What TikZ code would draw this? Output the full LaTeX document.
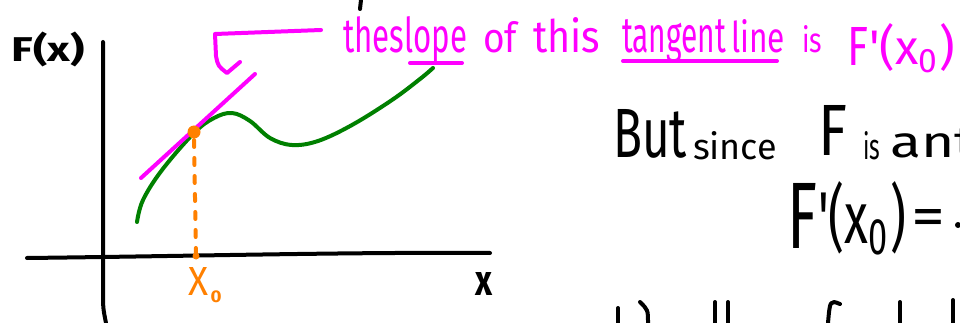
\documentclass[tikz,border=0pt]{standalone}
\usepackage{fontspec}
\setmainfont{Fira Sans}
\usepackage{graphicx}
\definecolor{mag}{RGB}{255,0,255}
\definecolor{grn}{RGB}{0,128,0}
\definecolor{org}{RGB}{255,128,0}
% width x height-above-baseline
\newcommand\wh[3]{\resizebox{#1pt}{#2pt}{#3}}
% width x total height
\newcommand\bfit[3]{\resizebox*{#1pt}{#2pt}{#3}}
\begin{document}
\begin{tikzpicture}[x=1pt,y=-1pt,
  ink/.style={line width=4pt,line cap=round,line join=round},
  lbl/.style={inner sep=0pt,outer sep=0pt}]
\useasboundingbox (0,0) rectangle (960,323);
\clip (0,0) rectangle (960,323);
\fill[white] (0,0) rectangle (960,323);

% axes
\draw[ink,black] (103,42) -- (103,290) .. controls (103,308) .. (106,323);
\draw[ink,black] (27,258) .. controls (200,256) and (350,252) .. (490,253);
\node[lbl,anchor=north west] (Fx) at (12,32) {\bfit{73}{35}{\bfseries F(x)}};
\node[lbl,anchor=north west] (xl) at (475,272) {\bfit{17}{23}{\bfseries x}};

% curve
\draw[ink,grn] plot[smooth,tension=0.6] coordinates {(137,222) (143,200) (162,170) (194,133) (214,118) (232,113) (250,121) (270,138) (292,145) (318,141) (352,125) (392,100) (420,79) (433,68)};

% tangent line
\draw[ink,mag] (141,178) -- (255,74);

% orange
\draw[ink,org,dash pattern=on 7pt off 11pt] (194,140) -- (196,255);
\fill[org] (194,132) circle (6.5);
\fill[org] (196,256) circle (3.5);
\node[lbl,anchor=north west,org] (X) at (188,267) {\bfit{20}{28}{X}};
\node[lbl,org] (X0) at (216,297) {\bfit{11}{12}{\bfseries 0}};

% callout
\draw[ink,mag] (321,30) -- (215,34) -- (216,56) .. controls (218,66) .. (227,73) -- (240,62);

% magenta text
\node[lbl,anchor=base west,mag] (t1) at (343,53) {\wh{124}{36}{theslope}};
\node[lbl,anchor=base west,mag] (t2) at (483,53) {\wh{34}{31}{of}};
\node[lbl,anchor=base west,mag] (t3) at (533,53) {\wh{67}{35}{this}};
\node[lbl,anchor=base west,mag] (t4) at (622,53) {\wh{104}{33}{tangent}};
\node[lbl,anchor=base west,mag] (t5) at (731,53) {\wh{54}{33}{line}};
\node[lbl,anchor=base west,mag] (t6) at (802,53) {\wh{20}{27}{is}};
\node[lbl,anchor=north west,mag] (t7) at (847,27) {\bfit{21}{38}{F}};
\node[lbl,anchor=base west,mag] (t8) at (869,65) {\wh{86}{41}{\textquotesingle(x\textsubscript{0})}};
\draw[ink,mag] (410,63) -- (462,63);
\draw[ink,mag] (623,61) -- (777,61);

% black text right
\node[lbl,anchor=base west] (b1) at (613,158) {\wh{74}{48}{But}};
\node[lbl,anchor=base west] (b2) at (693,160) {\wh{84}{28}{since}};
\node[lbl,anchor=north west] (b3) at (818,105) {\bfit{29}{50}{F}};
\node[lbl,anchor=base west] (b4) at (863,160) {\wh{17}{28}{is}};
\node[lbl,anchor=base west] (b5) at (890,158) {\wh{85}{29}{ant}};
\node[lbl,anchor=north west] (c1) at (787,183) {\bfit{30}{65}{F}};
\node[lbl,anchor=base west] (c2) at (818,243) {\wh{88}{62}{\textquotesingle(x\textsubscript{0})}};
\node[lbl] (c3) at (928,222) {\bfit{34}{26}{=}};
\fill (958,225) circle (3);

% partial strokes at bottom edge
\draw[ink] (618,308) -- (618,323);
\draw[ink] (640,302) .. controls (648,310) .. (648,323);
\draw[ink] (715,302) -- (715,323);
\draw[ink] (728,302) -- (728,323);
\draw[ink] (840,304) .. controls (830,300) .. (828,323);
\draw[ink] (900,302) -- (900,323);
\draw[ink] (953,300) -- (953,323);
% tick at top
\draw[ink] (361,0) -- (360,9);
\end{tikzpicture}
\end{document}
